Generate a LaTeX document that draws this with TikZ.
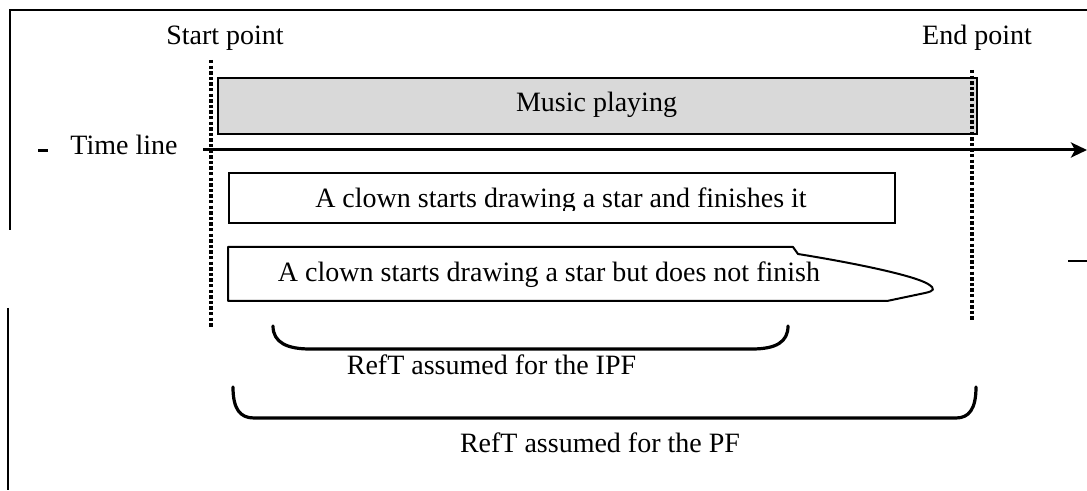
\documentclass[tikz,border=0pt]{standalone}
\usepackage{fontspec}
\setmainfont{Liberation Serif}
\usetikzlibrary{arrows.meta}
\begin{document}
\begin{tikzpicture}[x=0.5pt,y=-0.5pt,
  every node/.style={font=\fontsize{14pt}{16pt}\selectfont, inner sep=0pt},
  frameline/.style={line width=0.8pt},
  boxline/.style={draw, line width=1pt},
  dotline/.style={line width=2.2pt, dash pattern=on 1.7pt off 1.1pt},
  bracketline/.style={line width=1.6pt, line cap=round},
  lbl/.style={anchor=base}
]
\useasboundingbox (0,0) rectangle (1087,491);
% outer frame fragments
\draw[frameline] (10,230) -- (10,10) -- (1087,10);
\draw[frameline] (8,308) -- (8,490);
\draw[line width=1pt] (1068,261) -- (1087,261);
% labels
\node[lbl] (start) at (225,45) {Start point};
\node[lbl] (end) at (977,45) {End point};
\draw[line width=1.5pt] (38,151) -- (48,151);
\node[lbl, anchor=base west] (tl) at (70,155) {Time line};
% music box
\node[boxline, fill={rgb,255:red,217;green,217;blue,217}, minimum width=379.5pt, minimum height=28pt, anchor=north west] (music) at (217,77) {};
\node (musictxt) at (596.5,105) {Music playing};
% time line arrow
\coordinate (tstart) at (203,150);
\coordinate (tend) at (1087,150);
\draw[line width=1.5pt, -{Stealth[length=8pt,width=7.5pt,inset=2pt]}] (tstart) -- (tend);
% dotted lines
\draw[dotline] (211,60) -- (211,328);
\draw[dotline] (972,70) -- (972,321);
% box 2
\node[boxline, minimum width=333pt, minimum height=25pt, anchor=north west] (b2) at (228,172) {};
\begin{scope}
\clip (228,172) rectangle (894,211);
\node[lbl] (b2txt) at (561,208) {A clown starts drawing a star and finishes it};
\end{scope}
% box 3 callout
\draw[line width=1pt, line join=round] (228,247) -- (793,247) -- (798,254)
  .. controls (860,264) and (915,276) .. (928,284)
  .. controls (936,289) and (934,291) .. (925,293)
  -- (887,301) -- (228,301) -- cycle;
\node[lbl] (b3txt) at (549,282) {A clown starts drawing a star but does not finish};
% IPF bracket
\draw[bracketline] (273,326) .. controls (273,343) and (288,349) .. (310,349) -- (752,349)
  .. controls (776,349) and (788,342) .. (788,326);
\node[lbl] (ipf) at (491.5,375) {RefT assumed for the IPF};
% PF bracket
\draw[bracketline] (233,387) .. controls (233,409) and (240,418) .. (254,418) -- (956,418)
  .. controls (969,418) and (976,409) .. (976,387);
\node[lbl] (pf) at (600,452) {RefT assumed for the PF};
\end{tikzpicture}
\end{document}
